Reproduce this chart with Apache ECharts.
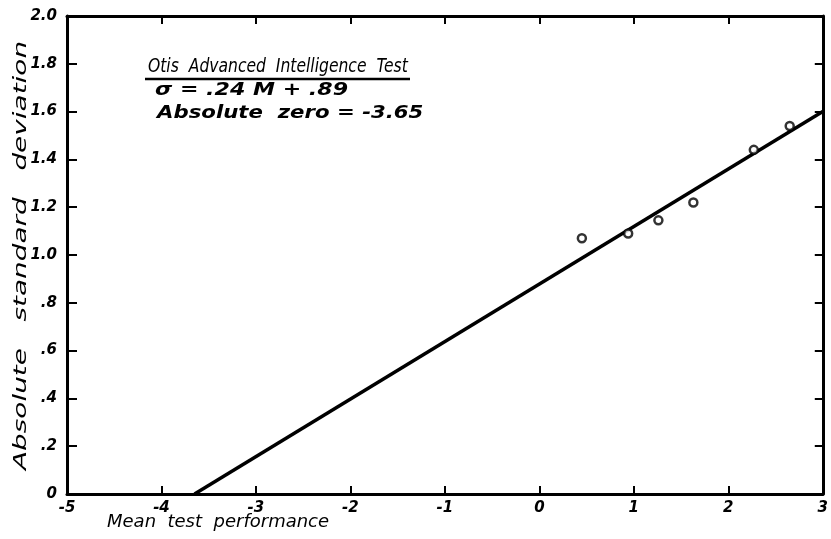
<!DOCTYPE html>
<html>
<head>
<meta charset="utf-8">
<script src="https://cdn.jsdelivr.net/npm/echarts@6/dist/echarts.min.js"></script>
<style>
html,body{margin:0;padding:0;background:#fff;}
#chart{width:831px;height:539px;}
</style>
</head>
<body>
<div id="chart"></div>
<script>
// Data
var meanPerformance = [0.45, 0.94, 1.26, 1.63, 2.27, 2.65];
var absoluteSD = [1.07, 1.09, 1.145, 1.22, 1.44, 1.54];
var fitLineX = [-3.65, 3];
var fitLineY = [0, 1.6];
var yTickLabels = {0: '0', 0.2: '.2', 0.4: '.4', 0.6: '.6', 0.8: '.8', 1: '1.0', 1.2: '1.2', 1.4: '1.4', 1.6: '1.6', 1.8: '1.8', 2: '2.0'};
var titleLines = ['Otis  Advanced  Intelligence  Test', 'σ = .24 M + .89', 'Absolute  zero = -3.65'];
var xAxisName = 'Mean  test  performance';
var yAxisName = 'Absolute   standard   deviation';

var FONT = '"DejaVu Sans", sans-serif';
var chart = echarts.init(document.getElementById('chart'));

var scatterData = meanPerformance.map(function (x, i) { return [x, absoluteSD[i]]; });
var lineData = fitLineX.map(function (x, i) { return [x, fitLineY[i]]; });

function yFmt(v) {
  var k = Math.round(v * 10) / 10;
  return yTickLabels[k] !== undefined ? yTickLabels[k] : '';
}

var axisLine = { show: true, onZero: false, lineStyle: { color: '#000', width: 3 } };
var labelStyle = { color: '#000', fontFamily: FONT, fontStyle: 'italic', fontWeight: 'bold', fontSize: 15 };

var option = {
  backgroundColor: '#fff',
  animation: false,
  grid: { left: 67, right: 5, top: 16, bottom: 45 },
  xAxis: [
    {
      type: 'value', min: -5, max: 3, interval: 1, position: 'bottom',
      axisLine: axisLine,
      axisTick: { show: true, inside: true, length: 8, lineStyle: { color: '#000', width: 2 } },
      axisLabel: Object.assign({ margin: 7, formatter: function (v) { return String(v); } }, labelStyle),
      splitLine: { show: false }
    },
    {
      type: 'value', min: -5, max: 3, interval: 1, position: 'top',
      axisLine: axisLine,
      axisTick: { show: true, inside: true, length: 8, lineStyle: { color: '#000', width: 2 } },
      axisLabel: { show: false },
      splitLine: { show: false }
    }
  ],
  yAxis: [
    {
      type: 'value', min: 0, max: 2, interval: 0.2, position: 'left',
      axisLine: axisLine,
      axisTick: { show: true, inside: true, length: 10, lineStyle: { color: '#000', width: 2 } },
      axisLabel: Object.assign({ margin: 10, formatter: yFmt }, labelStyle),
      splitLine: { show: false }
    },
    {
      type: 'value', min: 0, max: 2, interval: 0.2, position: 'right',
      axisLine: axisLine,
      axisTick: { show: true, inside: true, length: 8, lineStyle: { color: '#000', width: 2 } },
      axisLabel: { show: false },
      splitLine: { show: false }
    }
  ],
  series: [
    {
      type: 'line', data: lineData, symbol: 'none', xAxisIndex: 0, yAxisIndex: 0,
      lineStyle: { color: '#000', width: 3.5 }, z: 3
    },
    {
      type: 'scatter', data: scatterData, xAxisIndex: 0, yAxisIndex: 0,
      symbol: 'circle', symbolSize: 8,
      itemStyle: { color: '#fff', borderColor: '#000', borderWidth: 2.5 }, z: 4
    }
  ],
  graphic: [
    { type: 'text', x: 148, y: 58, scaleX: 0.82, style: { text: titleLines[0], font: 'italic 19px ' + FONT, fill: '#000' } },
    { type: 'line', shape: { x1: 145, y1: 79, x2: 410, y2: 79 }, style: { stroke: '#000', lineWidth: 2.5 } },
    { type: 'text', x: 155, y: 82, scaleX: 1.3, style: { text: titleLines[1], font: 'italic bold 17px ' + FONT, fill: '#000' } },
    { type: 'text', x: 157, y: 105, scaleX: 1.25, style: { text: titleLines[2], font: 'italic bold 17px ' + FONT, fill: '#000' } },
    { type: 'text', x: 107, y: 513, scaleX: 1.0, style: { text: xAxisName, font: 'italic 18px ' + FONT, fill: '#000' } },
    { type: 'text', x: 12, y: 470, rotation: Math.PI / 2, scaleX: 1.55,
      style: { text: yAxisName, font: 'italic 18px ' + FONT, fill: '#000', align: 'left', verticalAlign: 'top' } }
  ]
};
chart.setOption(option);
</script>
</body>
</html>
